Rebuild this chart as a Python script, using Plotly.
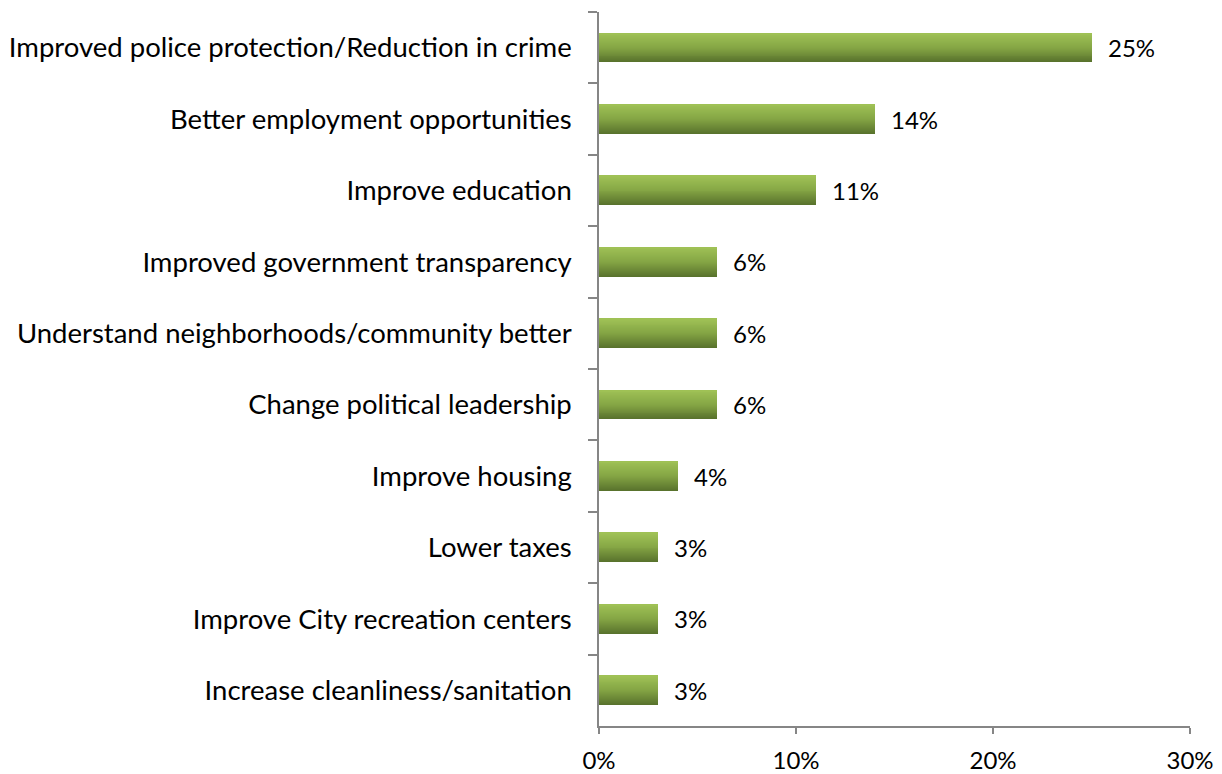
import plotly.graph_objects as go

# Survey responses, listed top to bottom
categories = [
    "Improved police protection/Reduction in crime",
    "Better employment opportunities",
    "Improve education",
    "Improved government transparency",
    "Understand neighborhoods/community better",
    "Change political leadership",
    "Improve housing",
    "Lower taxes",
    "Improve City recreation centers",
    "Increase cleanliness/sanitation",
]
values = [25, 14, 11, 6, 6, 6, 4, 3, 3, 3]
x_ticks = [0, 10, 20, 30]
x_tick_labels = ["0%", "10%", "20%", "30%"]

FONT = "Lato"
AXIS_GRAY = "#868686"
BAR_WIDTH = 0.41
N_SLICES = 30

# vertical gradient stops: t=0 top edge, t=1 bottom edge
grad = [(0.0, (160, 194, 86)), (0.5, (132, 165, 68)), (1.0, (88, 113, 44))]


def grad_color(t):
    for (t0, c0), (t1, c1) in zip(grad[:-1], grad[1:]):
        if t <= t1:
            f = (t - t0) / (t1 - t0)
            r, g, b = (round(a + (bb - a) * f) for a, bb in zip(c0, c1))
            return f"rgb({r},{g},{b})"
    r, g, b = grad[-1][1]
    return f"rgb({r},{g},{b})"


fig = go.Figure()

# Each bar is built from nested slices that all reach the top edge,
# getting shorter and lighter, which gives a top-to-bottom gradient.
for k in range(N_SLICES):
    width = BAR_WIDTH * (1 - k / N_SLICES)
    t = 1 - (k + 0.5) / N_SLICES
    fig.add_trace(go.Bar(
        x=values,
        y=categories,
        orientation="h",
        width=[width] * len(values),
        offset=[-BAR_WIDTH / 2] * len(values),
        marker=dict(color=grad_color(t), line=dict(width=0)),
        showlegend=False,
        hoverinfo="skip",
    ))

for cat, v in zip(categories, values):
    fig.add_annotation(
        x=v, y=cat, text=f"{v}%", showarrow=False,
        xanchor="left", yanchor="middle", xshift=14,
        font=dict(family=FONT, size=24, color="#000000"),
    )

fig.update_layout(
    width=1222, height=774,
    margin=dict(l=599, r=32, t=12, b=48, pad=0),
    paper_bgcolor="white", plot_bgcolor="white",
    barmode="overlay", bargap=0,
    font=dict(family=FONT, size=24, color="#000000"),
    hovermode=False,
)
fig.update_xaxes(
    range=[0, 30], tickvals=x_ticks, ticktext=x_tick_labels,
    showgrid=False, zeroline=False,
    showline=True, linecolor=AXIS_GRAY, linewidth=1.5,
    ticks="outside", ticklen=6, tickcolor=AXIS_GRAY, tickwidth=1.5,
    ticklabelstandoff=6, automargin=False,
    tickfont=dict(family=FONT, size=24, color="#000000"),
    fixedrange=True,
)
fig.update_yaxes(
    type="category", autorange="reversed",
    showgrid=False, zeroline=False,
    showline=True, linecolor=AXIS_GRAY, linewidth=1.5,
    ticks="outside", tickson="boundaries", ticklen=9,
    tickcolor=AXIS_GRAY, tickwidth=1.5,
    ticklabelstandoff=20, automargin=False,
    tickfont=dict(family=FONT, size=27.5, color="#000000"),
    fixedrange=True,
)

fig.write_html("out.html", config={"displayModeBar": False})
